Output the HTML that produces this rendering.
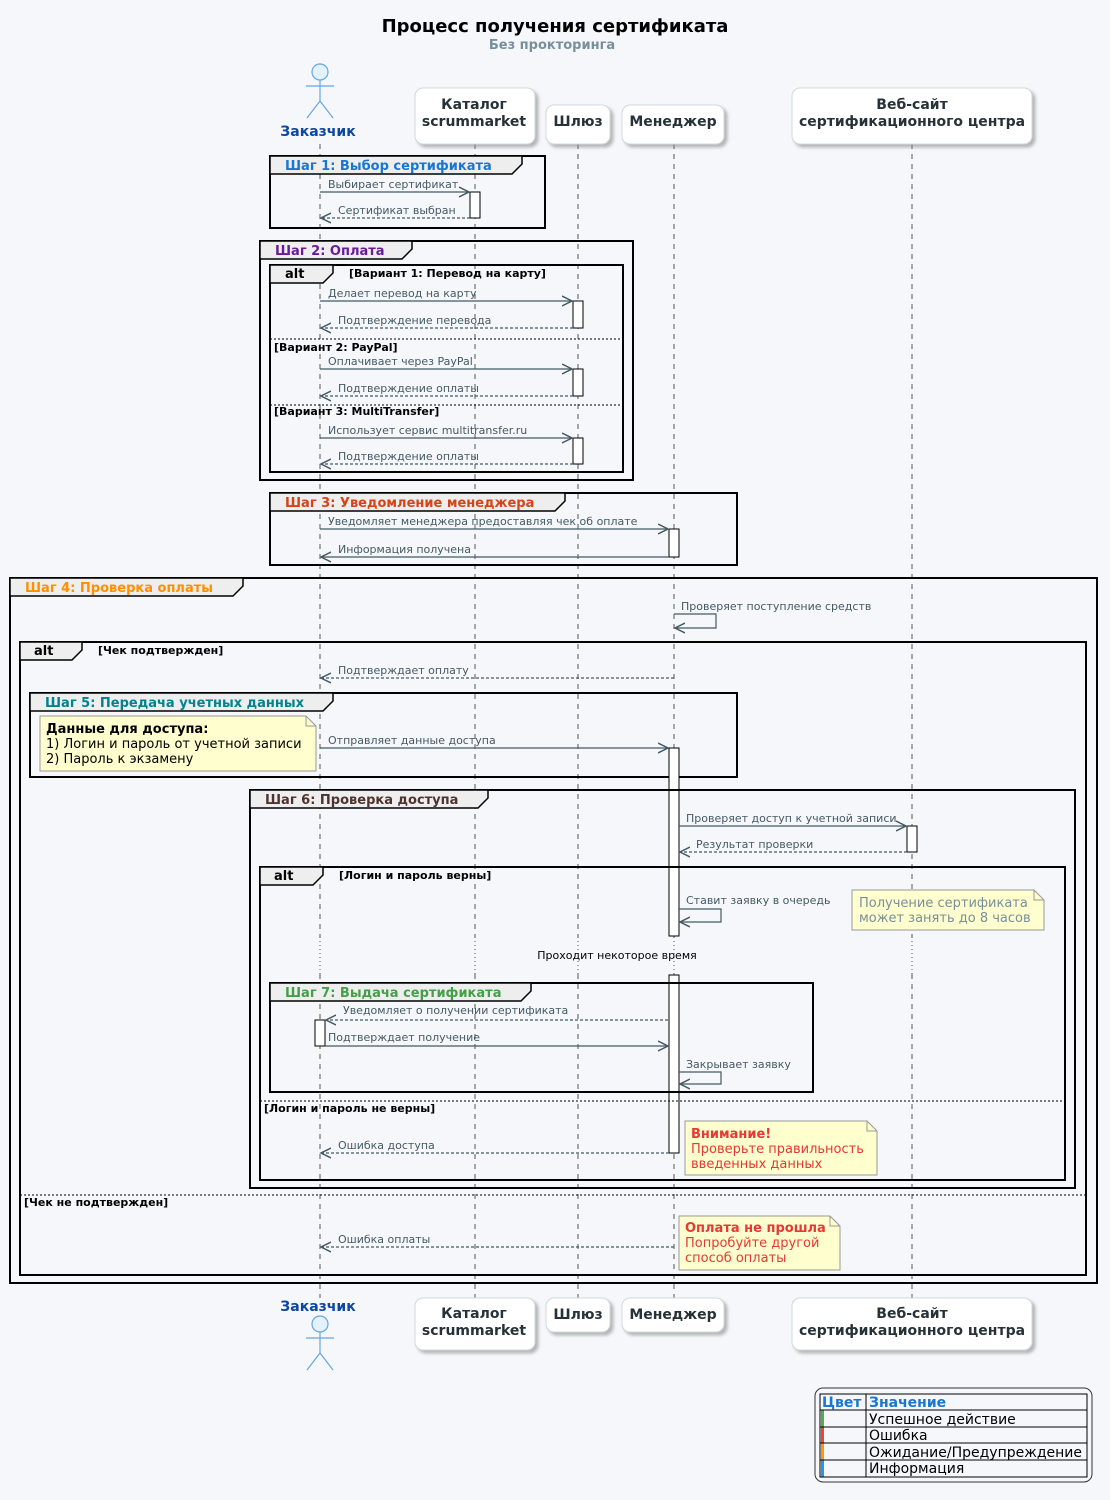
<!DOCTYPE html>
<html><head><meta charset="utf-8"><style>
html,body{margin:0;padding:0;background:#f5f7fa}
svg{display:block;font-family:"DejaVu Sans","Liberation Sans",sans-serif}
.m{font-size:11px;fill:#455a64;font-family:"DejaVu Sans",sans-serif}
.c{font-size:11px;font-weight:bold;fill:#000;font-family:"DejaVu Sans",sans-serif}
.g{font-size:13px;font-weight:bold}
.p{font-size:14px;font-weight:bold;fill:#263238;text-anchor:middle}
.ln{stroke:#455a64;stroke-width:1.2;fill:none}
.ds{stroke:#455a64;stroke-width:1.2;fill:none;stroke-dasharray:3,2}
.fr{fill:none;stroke:#000;stroke-width:2}
.tab{fill:#eeeeee;stroke:#000;stroke-width:1.5}
.ll{stroke:#555;stroke-width:1;stroke-dasharray:5,5}
.act{fill:#fff;stroke:#000;stroke-width:1}
.sep{stroke:#000;stroke-width:1;stroke-dasharray:2,2}
.note{fill:#fefece;stroke:#999;stroke-width:1}
</style></head><body>
<svg width="1110" height="1500" viewBox="0 0 1110 1500" xmlns="http://www.w3.org/2000/svg">
<defs>
<marker id="a" markerWidth="12" markerHeight="12" refX="10" refY="6" orient="auto" markerUnits="userSpaceOnUse"><path d="M0,1 L10,6 L0,11" fill="none" stroke="#455a64" stroke-width="1.5"/></marker>
<filter id="sh" x="-10%" y="-10%" width="130%" height="140%"><feDropShadow dx="3" dy="3" stdDeviation="1.5" flood-color="#888" flood-opacity="0.6"/></filter>
</defs>
<text x="555" y="32" text-anchor="middle" font-size="18" font-weight="bold" fill="#000">Процесс получения сертификата</text>
<text x="552" y="49" text-anchor="middle" font-size="13" font-weight="bold" fill="#78909c">Без прокторинга</text>

<g class="ll">
<line x1="320" y1="144" x2="320" y2="1298"/>
<line x1="475" y1="144" x2="475" y2="1298"/>
<line x1="578" y1="144" x2="578" y2="1298"/>
<line x1="674" y1="144" x2="674" y2="1298"/>
<line x1="912" y1="144" x2="912" y2="1298"/>
</g>
<rect x="0" y="937" width="1110" height="37" fill="#f5f7fa"/>
<g stroke="#555" stroke-dasharray="1,3"><line x1="320" y1="937" x2="320" y2="974"/><line x1="475" y1="937" x2="475" y2="974"/><line x1="578" y1="937" x2="578" y2="974"/><line x1="674" y1="937" x2="674" y2="974"/><line x1="912" y1="937" x2="912" y2="974"/></g>
<text x="617" y="959" text-anchor="middle" font-size="11" fill="#000">Проходит некоторое время</text>

<g stroke="#64a6e8" stroke-width="1.2" fill="none"><circle cx="320" cy="72" r="8" fill="#e3f2fd"/><line x1="320" y1="80" x2="320" y2="101"/><line x1="306" y1="86" x2="334" y2="86"/><line x1="320" y1="101" x2="307" y2="118"/><line x1="320" y1="101" x2="333" y2="118"/></g>
<text x="318" y="136" class="p" style="fill:#0d47a1">Заказчик</text>
<g fill="#fff" stroke="#cfd8dc" filter="url(#sh)">
<rect x="415" y="88" width="120" height="56" rx="8"/>
<rect x="546" y="105" width="64" height="39" rx="8"/>
<rect x="622" y="105" width="102" height="39" rx="8"/>
<rect x="792" y="88" width="240" height="56" rx="8"/>
</g>
<text x="474" y="109" class="p">Каталог</text><text x="474" y="126" class="p">scrummarket</text>
<text x="578" y="126" class="p">Шлюз</text>
<text x="673" y="126" class="p">Менеджер</text>
<text x="912" y="109" class="p">Веб-сайт</text><text x="912" y="126" class="p">сертификационного центра</text>

<text x="318" y="1311" class="p" style="fill:#0d47a1">Заказчик</text>
<g stroke="#64a6e8" stroke-width="1.2" fill="none"><circle cx="320" cy="1324" r="8" fill="#e3f2fd"/><line x1="320" y1="1332" x2="320" y2="1353"/><line x1="306" y1="1338" x2="334" y2="1338"/><line x1="320" y1="1353" x2="307" y2="1370"/><line x1="320" y1="1353" x2="333" y2="1370"/></g>
<g fill="#fff" stroke="#cfd8dc" filter="url(#sh)">
<rect x="415" y="1298" width="120" height="52" rx="8"/>
<rect x="546" y="1298" width="64" height="34" rx="8"/>
<rect x="622" y="1298" width="102" height="34" rx="8"/>
<rect x="792" y="1298" width="240" height="52" rx="8"/>
</g>
<text x="474" y="1318" class="p">Каталог</text><text x="474" y="1335" class="p">scrummarket</text>
<text x="578" y="1319" class="p">Шлюз</text>
<text x="673" y="1319" class="p">Менеджер</text>
<text x="912" y="1318" class="p">Веб-сайт</text><text x="912" y="1335" class="p">сертификационного центра</text>

<rect class="fr" x="270" y="156" width="275" height="72"/>
<path class="tab" d="M270,156 H522 V164 L512,174 H270 Z"/>
<text x="285" y="170" class="g" fill="#1976d2">Шаг 1: Выбор сертификата</text>
<rect class="act" x="470" y="192" width="10" height="26"/>
<line class="ln" x1="320" y1="192" x2="469" y2="192" marker-end="url(#a)"/><text class="m" x="328" y="188">Выбирает сертификат</text>
<line class="ds" x1="470" y1="218" x2="321" y2="218" marker-end="url(#a)"/><text class="m" x="338" y="214">Сертификат выбран</text>

<rect class="fr" x="260" y="241" width="373" height="239"/>
<path class="tab" d="M260,241 H412 V249 L402,259 H260 Z"/>
<text x="275" y="255" class="g" fill="#6a1b9a">Шаг 2: Оплата</text>
<rect class="fr" x="270" y="265" width="353" height="207"/>
<path class="tab" d="M270,265 H333 V273 L323,283 H270 Z"/>
<text x="285" y="278" class="g" fill="#000">alt</text>
<text x="349" y="277" class="c">[Вариант 1: Перевод на карту]</text>
<rect class="act" x="573" y="301" width="10" height="27"/>
<line class="ln" x1="320" y1="301" x2="572" y2="301" marker-end="url(#a)"/><text class="m" x="328" y="297">Делает перевод на карту</text>
<line class="ds" x1="573" y1="328" x2="321" y2="328" marker-end="url(#a)"/><text class="m" x="338" y="324">Подтверждение перевода</text>
<line class="sep" x1="270" y1="339" x2="623" y2="339"/><text class="c" x="274" y="351">[Вариант 2: PayPal]</text>
<rect class="act" x="573" y="369" width="10" height="27"/>
<line class="ln" x1="320" y1="369" x2="572" y2="369" marker-end="url(#a)"/><text class="m" x="328" y="365">Оплачивает через PayPal</text>
<line class="ds" x1="573" y1="396" x2="321" y2="396" marker-end="url(#a)"/><text class="m" x="338" y="392">Подтверждение оплаты</text>
<line class="sep" x1="270" y1="405" x2="623" y2="405"/><text class="c" x="274" y="415">[Вариант 3: MultiTransfer]</text>
<rect class="act" x="573" y="438" width="10" height="26"/>
<line class="ln" x1="320" y1="438" x2="572" y2="438" marker-end="url(#a)"/><text class="m" x="328" y="434">Использует сервис multitransfer.ru</text>
<line class="ds" x1="573" y1="464" x2="321" y2="464" marker-end="url(#a)"/><text class="m" x="338" y="460">Подтверждение оплаты</text>

<rect class="fr" x="270" y="493" width="467" height="72"/>
<path class="tab" d="M270,493 H565 V501 L555,511 H270 Z"/>
<text x="285" y="507" class="g" fill="#d84315">Шаг 3: Уведомление менеджера</text>
<rect class="act" x="669" y="529" width="10" height="28"/>
<line class="ln" x1="320" y1="529" x2="668" y2="529" marker-end="url(#a)"/><text class="m" x="328" y="525">Уведомляет менеджера предоставляя чек об оплате</text>
<line class="ln" x1="669" y1="557" x2="321" y2="557" marker-end="url(#a)"/><text class="m" x="338" y="553">Информация получена</text>

<rect class="fr" x="10" y="578" width="1087" height="705"/>
<path class="tab" d="M10,578 H243 V586 L233,596 H10 Z"/>
<text x="25" y="592" class="g" fill="#ff8f00">Шаг 4: Проверка оплаты</text>
<path class="ln" d="M674,614 H716 V628 H675" marker-end="url(#a)"/><text class="m" x="681" y="610">Проверяет поступление средств</text>
<rect class="fr" x="20" y="642" width="1066" height="633"/>
<path class="tab" d="M20,642 H82 V650 L72,660 H20 Z"/>
<text x="34" y="655" class="g" fill="#000">alt</text>
<text x="98" y="654" class="c">[Чек подтвержден]</text>
<line class="ds" x1="674" y1="678" x2="321" y2="678" marker-end="url(#a)"/><text class="m" x="338" y="674">Подтверждает оплату</text>

<rect class="fr" x="30" y="693" width="707" height="84"/>
<path class="tab" d="M30,693 H333 V701 L323,711 H30 Z"/>
<text x="45" y="707" class="g" fill="#00838f">Шаг 5: Передача учетных данных</text>
<path class="note" d="M40,716 H306 L316,726 V771 H40 Z"/><path d="M306,716 V726 H316" fill="none" stroke="#999"/>
<text x="46" y="733" font-size="13" font-weight="bold" fill="#000">Данные для доступа:</text>
<text x="46" y="748" font-size="13" fill="#000">1) Логин и пароль от учетной записи</text>
<text x="46" y="763" font-size="13" fill="#000">2) Пароль к экзамену</text>
<line class="ln" x1="320" y1="748" x2="668" y2="748" marker-end="url(#a)"/><text class="m" x="328" y="744">Отправляет данные доступа</text>
<rect class="act" x="669" y="748" width="10" height="188"/>
<rect class="act" x="669" y="975" width="10" height="178"/>

<rect class="fr" x="250" y="790" width="825" height="398"/>
<path class="tab" d="M250,790 H488 V798 L478,808 H250 Z"/>
<text x="265" y="804" class="g" fill="#4e342e">Шаг 6: Проверка доступа</text>
<rect class="act" x="907" y="826" width="10" height="26"/>
<line class="ln" x1="679" y1="826" x2="906" y2="826" marker-end="url(#a)"/><text class="m" x="686" y="822">Проверяет доступ к учетной записи</text>
<line class="ds" x1="907" y1="852" x2="680" y2="852" marker-end="url(#a)"/><text class="m" x="696" y="848">Результат проверки</text>
<rect class="fr" x="260" y="867" width="805" height="313"/>
<path class="tab" d="M260,867 H323 V875 L313,885 H260 Z"/>
<text x="274" y="880" class="g" fill="#000">alt</text>
<text x="339" y="879" class="c">[Логин и пароль верны]</text>
<path class="ln" d="M679,909 H721 V922 H680" marker-end="url(#a)"/><text class="m" x="686" y="904">Ставит заявку в очередь</text>
<path class="note" d="M852,890 H1034 L1044,900 V930 H852 Z"/><path d="M1034,890 V900 H1044" fill="none" stroke="#999"/>
<text x="859" y="907" font-size="13" fill="#78909c">Получение сертификата</text>
<text x="859" y="922" font-size="13" fill="#78909c">может занять до 8 часов</text>

<rect class="fr" x="270" y="983" width="543" height="109"/>
<path class="tab" d="M270,983 H531 V991 L521,1001 H270 Z"/>
<text x="285" y="997" class="g" fill="#43a047">Шаг 7: Выдача сертификата</text>
<rect class="act" x="315" y="1020" width="10" height="26"/>
<line class="ds" x1="668" y1="1020" x2="326" y2="1020" marker-end="url(#a)"/><text class="m" x="343" y="1014">Уведомляет о получении сертификата</text>
<line class="ln" x1="325" y1="1046" x2="668" y2="1046" marker-end="url(#a)"/><text class="m" x="328" y="1041">Подтверждает получение</text>
<path class="ln" d="M679,1072 H721 V1084 H680" marker-end="url(#a)"/><text class="m" x="686" y="1068">Закрывает заявку</text>

<line class="sep" x1="260" y1="1101" x2="1065" y2="1101"/><text class="c" x="264" y="1112">[Логин и пароль не верны]</text>
<line class="ds" x1="669" y1="1153" x2="321" y2="1153" marker-end="url(#a)"/><text class="m" x="338" y="1149">Ошибка доступа</text>
<path class="note" d="M685,1121 H867 L877,1131 V1175 H685 Z"/><path d="M867,1121 V1131 H877" fill="none" stroke="#999"/>
<text x="691" y="1138" font-size="13" font-weight="bold" fill="#e53935">Внимание!</text>
<text x="691" y="1153" font-size="13" fill="#e53935">Проверьте правильность</text>
<text x="691" y="1168" font-size="13" fill="#e53935">введенных данных</text>

<line class="sep" x1="20" y1="1195" x2="1086" y2="1195"/><text class="c" x="24" y="1206">[Чек не подтвержден]</text>
<line class="ds" x1="674" y1="1247" x2="321" y2="1247" marker-end="url(#a)"/><text class="m" x="338" y="1243">Ошибка оплаты</text>
<path class="note" d="M679,1216 H830 L840,1226 V1270 H679 Z"/><path d="M830,1216 V1226 H840" fill="none" stroke="#999"/>
<text x="685" y="1232" font-size="13" font-weight="bold" fill="#e53935">Оплата не прошла</text>
<text x="685" y="1247" font-size="13" fill="#e53935">Попробуйте другой</text>
<text x="685" y="1262" font-size="13" fill="#e53935">способ оплаты</text>

<rect x="815" y="1388" width="277" height="94" rx="8" fill="none" stroke="#333" stroke-width="1"/>
<rect x="821" y="1410" width="3" height="17" fill="#4caf50"/>
<rect x="821" y="1427" width="3" height="16" fill="#f44336"/>
<rect x="821" y="1443" width="3" height="17" fill="#ff9800"/>
<rect x="821" y="1460" width="3" height="17" fill="#2196f3"/>
<g stroke="#000" stroke-width="1" fill="none">
<rect x="820" y="1394" width="267" height="83"/>
<line x1="866" y1="1394" x2="866" y2="1477"/>
<line x1="820" y1="1410" x2="1087" y2="1410"/><line x1="820" y1="1427" x2="1087" y2="1427"/><line x1="820" y1="1443" x2="1087" y2="1443"/><line x1="820" y1="1460" x2="1087" y2="1460"/>
</g>
<g font-size="14">
<text x="822" y="1407" font-weight="bold" fill="#1976d2">Цвет</text><text x="869" y="1407" font-weight="bold" fill="#1976d2">Значение</text>
<text x="869" y="1424" fill="#000">Успешное действие</text>
<text x="869" y="1440" fill="#000">Ошибка</text>
<text x="869" y="1457" fill="#000">Ожидание/Предупреждение</text>
<text x="869" y="1473" fill="#000">Информация</text>
</g>
</svg>
</body></html>
